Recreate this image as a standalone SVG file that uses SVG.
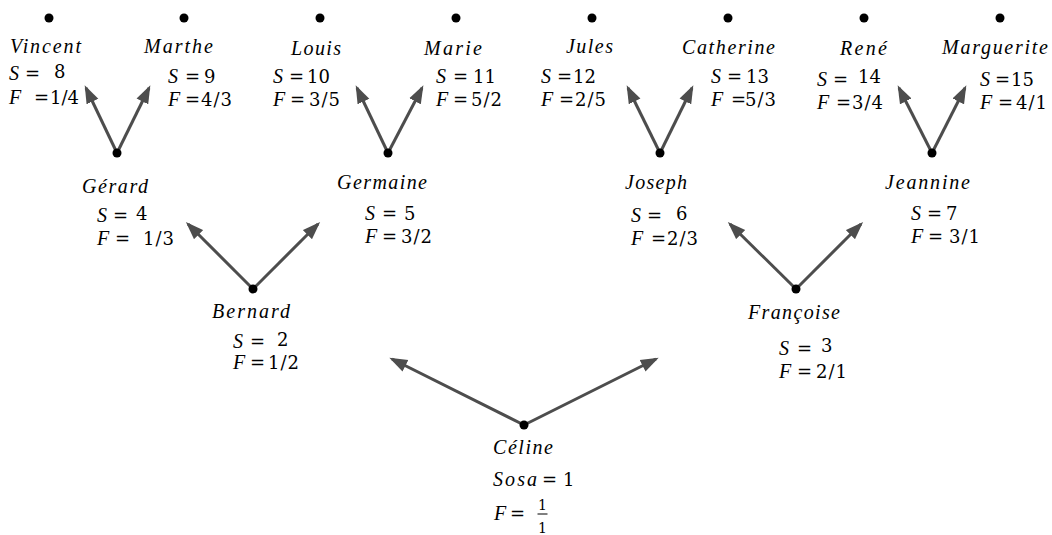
<svg xmlns="http://www.w3.org/2000/svg" width="1052" height="535" viewBox="0 0 1052 535" font-family="'Liberation Serif', 'DejaVu Serif', serif">
<style>
text{font-family:'Liberation Serif','DejaVu Serif',serif;fill:#000}
.n{font-style:italic;font-size:20px}
.m{font-family:'DejaVu Serif','Liberation Serif',serif;font-size:18px}
.i{font-family:'Liberation Serif','DejaVu Serif',serif;font-style:italic;font-size:20px}
.f{letter-spacing:1px}
.c{stroke:#4d4d4d;stroke-width:3;fill:none;marker-end:url(#ah)}
.d{fill:#000}
</style>
<defs>
<marker id="ah" markerUnits="userSpaceOnUse" markerWidth="20" markerHeight="14" viewBox="0 0 20 14" refX="15" refY="7" orient="auto">
<path d="M0,0.5 L18,7 L0,13.5 z" fill="#4d4d4d"/>
</marker>
</defs>
<rect width="1052" height="535" fill="#fff"/>
<g id="connectors">
<line class="c" x1="117" y1="153" x2="86" y2="88"/>
<line class="c" x1="117" y1="153" x2="149" y2="88"/>
<line class="c" x1="388" y1="153" x2="357" y2="88"/>
<line class="c" x1="388" y1="153" x2="422" y2="88"/>
<line class="c" x1="660" y1="153" x2="628" y2="88"/>
<line class="c" x1="660" y1="153" x2="692" y2="88"/>
<line class="c" x1="932" y1="153" x2="899" y2="88"/>
<line class="c" x1="932" y1="153" x2="965" y2="88"/>
<line class="c" x1="253" y1="289" x2="188" y2="224"/>
<line class="c" x1="253" y1="289" x2="318" y2="224"/>
<line class="c" x1="796" y1="289" x2="730" y2="224"/>
<line class="c" x1="796" y1="289" x2="861" y2="224"/>
<line class="c" x1="524" y1="425" x2="392" y2="359"/>
<line class="c" x1="524" y1="425" x2="656" y2="359"/>
</g>
<g id="vincent">
<circle class="d" cx="49" cy="18" r="4.5"/>
<text class="n" x="10" y="53" textLength="71" lengthAdjust="spacing">Vincent</text>
<text class="m" y="80"><tspan class="i" x="9">S</tspan><tspan x="25">=</tspan><tspan x="54" y="78">8</tspan></text>
<text class="m" y="104"><tspan class="i" x="9">F</tspan><tspan x="34">=</tspan><tspan x="50">1/4</tspan></text>
</g>
<g id="marthe">
<circle class="d" cx="184" cy="18" r="4.5"/>
<text class="n" x="144" y="53" textLength="69" lengthAdjust="spacing">Marthe</text>
<text class="m" y="83"><tspan class="i" x="168">S</tspan><tspan x="185">=</tspan><tspan x="204">9</tspan></text>
<text class="m" y="106"><tspan class="i" x="168">F</tspan><tspan x="185">=</tspan><tspan class="f" x="201">4/3</tspan></text>
</g>
<g id="louis">
<circle class="d" cx="320" cy="18" r="4.5"/>
<text class="n" x="291" y="55" textLength="50" lengthAdjust="spacing">Louis</text>
<text class="m" y="83"><tspan class="i" x="273">S</tspan><tspan x="289">=</tspan><tspan x="307">10</tspan></text>
<text class="m" y="106"><tspan class="i" x="273">F</tspan><tspan x="290">=</tspan><tspan class="f" x="309">3/5</tspan></text>
</g>
<g id="marie">
<circle class="d" cx="456" cy="18" r="4.5"/>
<text class="n" x="424" y="55" textLength="58" lengthAdjust="spacing">Marie</text>
<text class="m" y="83"><tspan class="i" x="436">S</tspan><tspan x="453">=</tspan><tspan x="473">11</tspan></text>
<text class="m" y="106"><tspan class="i" x="436">F</tspan><tspan x="453">=</tspan><tspan class="f" x="471">5/2</tspan></text>
</g>
<g id="jules">
<circle class="d" cx="592" cy="18" r="4.5"/>
<text class="n" x="566" y="53" textLength="47" lengthAdjust="spacing">Jules</text>
<text class="m" y="83"><tspan class="i" x="541">S</tspan><tspan x="557">=</tspan><tspan x="573">12</tspan></text>
<text class="m" y="106"><tspan class="i" x="541">F</tspan><tspan x="559">=</tspan><tspan class="f" x="575">2/5</tspan></text>
</g>
<g id="catherine">
<circle class="d" cx="728" cy="18" r="4.5"/>
<text class="n" x="682" y="54" textLength="93" lengthAdjust="spacing">Catherine</text>
<text class="m" y="83"><tspan class="i" x="711">S</tspan><tspan x="727">=</tspan><tspan x="746">13</tspan></text>
<text class="m" y="106"><tspan class="i" x="711">F</tspan><tspan x="731">=</tspan><tspan class="f" x="745">5/3</tspan></text>
</g>
<g id="rene">
<circle class="d" cx="864" cy="18" r="4.5"/>
<text class="n" x="840" y="55" textLength="47" lengthAdjust="spacing">René</text>
<text class="m" y="86"><tspan class="i" x="817">S</tspan><tspan x="833">=</tspan><tspan x="858" y="83">14</tspan></text>
<text class="m" y="109"><tspan class="i" x="817">F</tspan><tspan x="836">=</tspan><tspan class="f" x="852">3/4</tspan></text>
</g>
<g id="marguerite">
<circle class="d" cx="1000" cy="18" r="4.5"/>
<text class="n" x="942" y="54" textLength="106" lengthAdjust="spacing">Marguerite</text>
<text class="m" y="86"><tspan class="i" x="980">S</tspan><tspan x="995">=</tspan><tspan x="1011">15</tspan></text>
<text class="m" y="109"><tspan class="i" x="980">F</tspan><tspan x="998">=</tspan><tspan class="f" x="1016">4/1</tspan></text>
</g>
<g id="gerard">
<circle class="d" cx="117" cy="153" r="4.5"/>
<text class="n" x="82" y="193" textLength="66" lengthAdjust="spacing">Gérard</text>
<text class="m" y="222"><tspan class="i" x="97">S</tspan><tspan x="113">=</tspan><tspan x="136" y="220">4</tspan></text>
<text class="m" y="245"><tspan class="i" x="97">F</tspan><tspan x="115">=</tspan><tspan class="f" x="143">1/3</tspan></text>
</g>
<g id="germaine">
<circle class="d" cx="388" cy="153" r="4.5"/>
<text class="n" x="337" y="189" textLength="90" lengthAdjust="spacing">Germaine</text>
<text class="m" y="220"><tspan class="i" x="365">S</tspan><tspan x="382">=</tspan><tspan x="404">5</tspan></text>
<text class="m" y="243"><tspan class="i" x="365">F</tspan><tspan x="382">=</tspan><tspan class="f" x="401">3/2</tspan></text>
</g>
<g id="joseph">
<circle class="d" cx="660" cy="153" r="4.5"/>
<text class="n" x="625" y="189" textLength="62" lengthAdjust="spacing">Joseph</text>
<text class="m" y="222"><tspan class="i" x="631">S</tspan><tspan x="647">=</tspan><tspan x="676" y="220">6</tspan></text>
<text class="m" y="245"><tspan class="i" x="631">F</tspan><tspan x="651">=</tspan><tspan class="f" x="667">2/3</tspan></text>
</g>
<g id="jeannine">
<circle class="d" cx="932" cy="153" r="4.5"/>
<text class="n" x="885" y="189" textLength="85" lengthAdjust="spacing">Jeannine</text>
<text class="m" y="220"><tspan class="i" x="911">S</tspan><tspan x="927">=</tspan><tspan x="946">7</tspan></text>
<text class="m" y="243"><tspan class="i" x="911">F</tspan><tspan x="928">=</tspan><tspan class="f" x="949">3/1</tspan></text>
</g>
<g id="bernard">
<circle class="d" cx="253" cy="289" r="4.5"/>
<text class="n" x="212" y="318" textLength="78" lengthAdjust="spacing">Bernard</text>
<text class="m" y="348"><tspan class="i" x="233">S</tspan><tspan x="250">=</tspan><tspan x="277" y="346">2</tspan></text>
<text class="m" y="369"><tspan class="i" x="233">F</tspan><tspan x="250">=</tspan><tspan class="f" x="268">1/2</tspan></text>
</g>
<g id="francoise">
<circle class="d" cx="796" cy="289" r="4.5"/>
<text class="n" x="748" y="319" textLength="92" lengthAdjust="spacing">Françoise</text>
<text class="m" y="355"><tspan class="i" x="779">S</tspan><tspan x="797">=</tspan><tspan x="821" y="352">3</tspan></text>
<text class="m" y="378"><tspan class="i" x="779">F</tspan><tspan x="797">=</tspan><tspan class="f" x="816">2/1</tspan></text>
</g>
<g id="celine">
<circle class="d" cx="524" cy="425" r="4.5"/>
<text class="n" x="493" y="454" textLength="60" lengthAdjust="spacing">Céline</text>
<text class="m" y="486"><tspan class="i" x="493" textLength="44" lengthAdjust="spacing">Sosa</tspan><tspan x="542">=</tspan><tspan x="563">1</tspan></text>
<text class="m" y="520"><tspan class="i" x="494">F</tspan><tspan x="510">=</tspan></text>
<text class="m" x="542.5" y="510" text-anchor="middle" style="font-size:14px">1</text>
<line x1="537.5" y1="514" x2="547.5" y2="514" stroke="#000" stroke-width="1"/>
<text class="m" x="542.5" y="533" text-anchor="middle" style="font-size:14px">1</text>
</g>
</svg>
